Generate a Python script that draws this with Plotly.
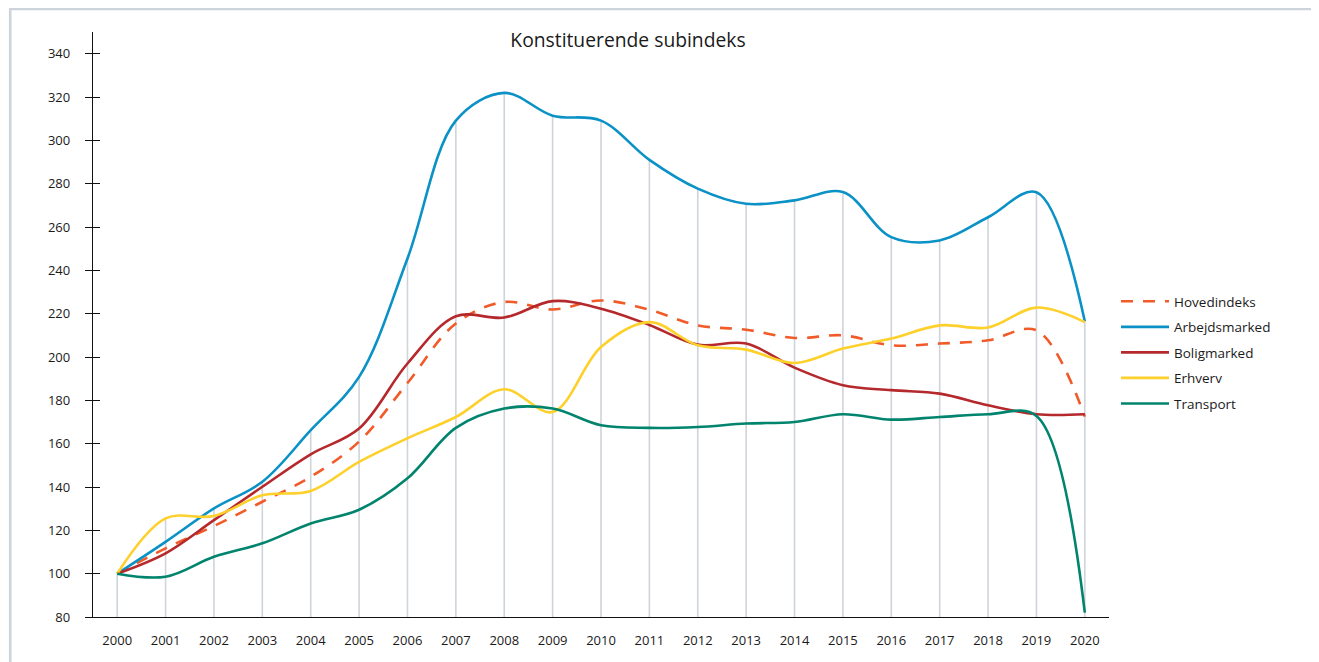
import plotly.graph_objects as go

years = list(range(2000, 2021))

hovedindeks = [100, 111.7, 122.0, 133.2, 144.7, 161.0, 188.0, 215.5, 225.4, 221.9, 226.1,
               221.8, 214.6, 212.6, 208.8, 210.0, 205.4, 206.2, 207.7, 212.3, 172.5]
arbejdsmarked = [100, 114.7, 130.1, 142.4, 166.2, 190.8, 245.5, 309.1, 321.9, 311.4, 309.1,
                 291.0, 277.7, 270.7, 272.3, 276.1, 255.3, 253.8, 264.5, 276.0, 216.5]
boligmarked = [100, 109.4, 124.7, 140.1, 155.1, 167.0, 197.0, 218.8, 218.2, 225.8, 222.3,
               214.8, 205.7, 206.2, 195.1, 187.0, 184.7, 183.1, 177.7, 173.6, 173.6]
erhverv = [100, 125.5, 126.6, 136.2, 138.2, 151.6, 162.5, 172.3, 185.1, 174.6, 204.6,
           216.1, 205.4, 203.4, 197.2, 203.9, 208.5, 214.6, 213.6, 222.8, 216.1]
transport = [100, 98.6, 107.8, 114.0, 123.2, 129.5, 144.0, 167.3, 176.2, 176.2, 168.5,
             167.3, 167.7, 169.3, 170.0, 173.6, 171.1, 172.3, 173.6, 172.8, 82.0]

series = [
    ("Hovedindeks", hovedindeks, "#f15a29", "12px,10px"),
    ("Arbejdsmarked", arbejdsmarked, "#0a91c5", "solid"),
    ("Boligmarked", boligmarked, "#b5282b", "solid"),
    ("Erhverv", erhverv, "#fdd02b", "solid"),
    ("Transport", transport, "#00846d", "solid"),
]

y_ticks = list(range(80, 341, 20))
y_min, y_max = 80, 350

fig = go.Figure()

# vertical drop lines from the highest series down to the axis
tops = [max(v) for v in zip(hovedindeks, arbejdsmarked, boligmarked, erhverv, transport)]
dx, dy = [], []
for yr, t in zip(years, tops):
    dx += [yr, yr, None]
    dy += [y_min, t, None]
fig.add_trace(go.Scatter(x=dx, y=dy, mode="lines", line=dict(color="#cfd4da", width=1.6),
                         showlegend=False, hoverinfo="skip"))

for i, (name, vals, col, dash) in enumerate(series):
    fig.add_trace(go.Scatter(
        x=years, y=vals, name=name, mode="lines",
        line=dict(color=col, width=2.6, dash=dash, shape="spline", smoothing=1.0),
        legendgroup=name,
    ))

# invisible trace to realise overlaid axis with inner ticks
fig.add_trace(go.Scatter(x=[None], y=[None], yaxis="y2", showlegend=False, hoverinfo="skip"))

W, H = 1311, 654
L, R, T, B = 85, 210, 24, 45
pw, ph = W - L - R, H - T - B

def px(xf):
    return (xf - L) / pw

def py(yf):
    return (H - B - yf) / ph

frame = dict(color="#cdd3da", width=2.6)

fig.update_layout(
    width=W, height=H,
    margin=dict(l=L, r=R, t=T, b=B, pad=0),
    paper_bgcolor="white", plot_bgcolor="white",
    font=dict(family="Open Sans, Noto Sans, sans-serif", color="#1a1a1a", size=13),
    title=dict(text="Konstituerende subindeks", x=px(620), xanchor="center",
               y=1 - 32 / H, yanchor="middle", xref="paper",
               font=dict(size=19.3, color="#1a1a1a")),
    xaxis=dict(range=[1999.5, 2020.5], tickmode="array", tickvals=years,
               ticktext=[str(y) for y in years], showgrid=False, zeroline=False,
               showline=True, linecolor="#111", linewidth=1.4, ticks="",
               ticklabelstandoff=11, tickfont=dict(size=13)),
    yaxis=dict(range=[y_min, y_max], tickvals=y_ticks, showgrid=False, zeroline=False,
               showline=True, linecolor="#111", linewidth=1.4, ticks="outside",
               ticklen=7, tickwidth=1.4, tickcolor="#111",
               ticklabelstandoff=12, tickfont=dict(size=13)),
    yaxis2=dict(range=[y_min, y_max], tickvals=y_ticks, overlaying="y", anchor="x",
                side="left", showgrid=False, zeroline=False, showline=False,
                ticks="inside", ticklen=7, tickwidth=1.4, tickcolor="#111",
                showticklabels=False),
    legend=dict(x=px(1108), xanchor="left", y=py(278), yanchor="top",
                traceorder="grouped", tracegroupgap=5, itemwidth=48,
                font=dict(size=13.5, color="#1a1a1a"), bgcolor="rgba(0,0,0,0)"),
    shapes=[
        dict(type="line", xref="paper", yref="paper",
             x0=px(1.0), x1=px(1307.5), y0=py(1.0), y1=py(1.0), line=frame, layer="above"),
        dict(type="line", xref="paper", yref="paper",
             x0=px(1307.5), x1=px(1307.5), y0=py(1.0), y1=py(H + 5), line=frame, layer="above"),
        dict(type="line", xref="paper", yref="paper",
             x0=px(2.2), x1=px(2.2), y0=py(1.0), y1=py(H + 5), line=frame, layer="above"),
    ],
    showlegend=True,
    hovermode=False,
)

fig.write_html("out.html")
